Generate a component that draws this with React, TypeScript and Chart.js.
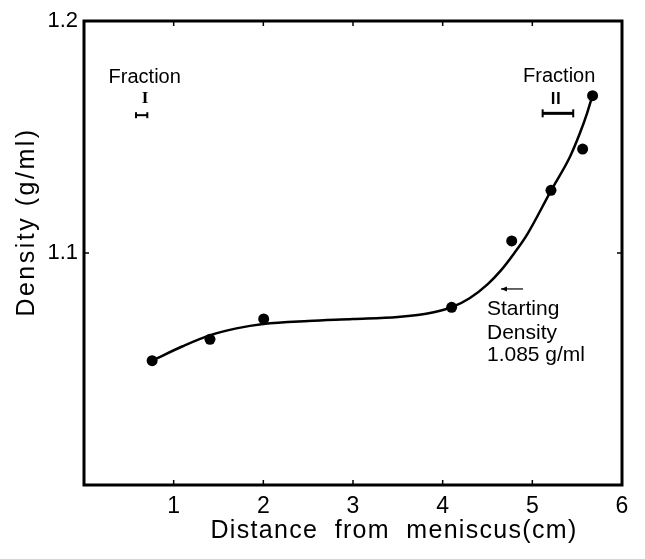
import React, { useEffect, useRef } from "react";
import { Chart, registerables } from "chart.js";

Chart.register(...registerables);

// Measured points (distance cm, density g/ml)
const pointX = [0.76, 1.405, 2.004, 4.1, 4.77, 5.208, 5.561, 5.672];
const pointY = [1.0536, 1.0628, 1.0716, 1.0766, 1.1052, 1.127, 1.1448, 1.1678];

// Hand-drawn smooth curve
const curveX = [0.76, 1.1, 1.4, 1.7, 2.0, 2.5, 3.0, 3.5, 3.9, 4.1, 4.3, 4.5, 4.65, 4.8, 4.95, 5.21, 5.42, 5.53, 5.61, 5.67];
const curveY = [1.0536, 1.0598, 1.0645, 1.0675, 1.0694, 1.0707, 1.0715, 1.0724, 1.0745, 1.0766, 1.0805, 1.0865, 1.0925, 1.1, 1.1085, 1.127, 1.1415, 1.1516, 1.1602, 1.1678];

const xTicks = [1, 2, 3, 4, 5, 6];
const yTicks = [1.1, 1.2];
const xMin = 0;
const xMax = 6;
const yMin = 1.0;
const yMax = 1.2;

const xTitle = "Distance  from  meniscus(cm)";
const yTitle = "Density (g/ml)";

const fractionLabels = ["Fraction", "Fraction"];
const fractionLabelX = [0.677, 5.3];
const fractionLabelY = [1.1757, 1.176];
const fractionNumerals = ["I", "Ⅱ"];
const fractionNumeralX = [0.68, 5.26];
const fractionNumeralY = [1.1664, 1.1667];
const fractionFrom = [0.58, 5.115];
const fractionTo = [0.706, 5.456];
const fractionBarY = [1.1594, 1.1602];

const startingLines = ["Starting", "Density", "1.085 g/ml"];
const startingTextX = 4.494;
const startingTextY = [1.0759, 1.0655, 1.056];
const arrowFromX = 4.896;
const arrowToX = 4.65;
const arrowY = 1.0845;

const FONT = '"Liberation Sans", Arial, Helvetica, sans-serif';

const annotationPlugin = {
  id: "annotations",
  afterDraw(chart: any) {
    const ctx = chart.ctx as CanvasRenderingContext2D;
    const { left, right, top, bottom } = chart.chartArea;
    const xs = chart.scales.x;
    const ys = chart.scales.y;
    const X = (v: number) => xs.getPixelForValue(v);
    const Y = (v: number) => ys.getPixelForValue(v);
    const line = (x1: number, y1: number, x2: number, y2: number) => {
      ctx.beginPath();
      ctx.moveTo(x1, y1);
      ctx.lineTo(x2, y2);
      ctx.stroke();
    };
    ctx.save();
    ctx.strokeStyle = "#000";
    ctx.fillStyle = "#000";
    // frame
    ctx.lineWidth = 3;
    ctx.strokeRect(left, top, right - left, bottom - top);
    // inward ticks
    ctx.lineWidth = 1.5;
    xTicks.forEach((v) => {
      if (v >= xMax) return;
      const px = X(v);
      line(px, bottom, px, bottom - 5);
      line(px, top, px, top + 5);
    });
    yTicks.forEach((v) => {
      if (v >= yMax) return;
      const py = Y(v);
      line(left, py, left + 5, py);
      line(right, py, right - 5, py);
    });

    // fraction labels
    ctx.textAlign = "center";
    ctx.textBaseline = "middle";
    ctx.font = `20px ${FONT}`;
    fractionLabels.forEach((t, i) => {
      ctx.fillText(t, X(fractionLabelX[i]), Y(fractionLabelY[i]));
    });
    fractionNumerals.forEach((t, i) => {
      ctx.font = i === 0 ? `bold 17px "Liberation Serif", serif` : `bold 16px "Noto Sans CJK JP", serif`;
      ctx.fillText(t, X(fractionNumeralX[i]), Y(fractionNumeralY[i]));
    });
    fractionFrom.forEach((f, i) => {
      const x1 = X(f);
      const x2 = X(fractionTo[i]);
      const y = Y(fractionBarY[i]);
      const h = i === 0 ? 3 : 4;
      ctx.lineWidth = i === 0 ? 2 : 3;
      line(x1, y, x2, y);
      ctx.lineWidth = 2;
      line(x1, y - h, x1, y + h);
      line(x2, y - h, x2, y + h);
    });

    // starting density note
    ctx.textAlign = "left";
    ctx.font = `21px ${FONT}`;
    startingLines.forEach((t, i) => {
      ctx.fillText(t, X(startingTextX), Y(startingTextY[i]));
    });
    const ax1 = X(arrowFromX);
    const ax2 = X(arrowToX);
    const ay = Y(arrowY);
    ctx.lineWidth = 1.2;
    line(ax1, ay, ax2, ay);
    ctx.beginPath();
    ctx.moveTo(ax2, ay);
    ctx.lineTo(ax2 + 6, ay - 2.5);
    ctx.lineTo(ax2 + 6, ay + 2.5);
    ctx.closePath();
    ctx.fill();

    // axis titles
    ctx.font = `25px ${FONT}`;
    (ctx as any).letterSpacing = "1.3px";
    ctx.textAlign = "center";
    ctx.fillText(xTitle, 394, 531);
    (ctx as any).letterSpacing = "2.5px";
    ctx.translate(27, 222);
    ctx.rotate(-Math.PI / 2);
    ctx.fillText(yTitle, 0, 0);
    ctx.restore();
  },
};

export default function App() {
  const canvasRef = useRef<HTMLCanvasElement | null>(null);

  useEffect(() => {
    document.body.style.margin = "0";
    const canvas = canvasRef.current;
    if (!canvas) return;
    const chart = new Chart(canvas, {
      type: "scatter",
      data: {
        datasets: [
          {
            data: curveX.map((x, i) => ({ x, y: curveY[i] })),
            showLine: true,
            borderColor: "#000",
            borderWidth: 2.5,
            pointRadius: 0,
            cubicInterpolationMode: "monotone",
            fill: false,
          },
          {
            data: pointX.map((x, i) => ({ x, y: pointY[i] })),
            showLine: false,
            pointRadius: 5.5,
            pointBackgroundColor: "#000",
            pointBorderColor: "#000",
            pointBorderWidth: 0,
          },
        ],
      },
      options: {
        responsive: false,
        animation: false,
        devicePixelRatio: 1,
        layout: { padding: { top: 21, right: 23, left: 0, bottom: 0 } },
        plugins: { legend: { display: false }, tooltip: { enabled: false } },
        scales: {
          x: {
            type: "linear",
            min: xMin,
            max: xMax,
            grid: { display: false, drawTicks: false, tickLength: 0 },
            border: { display: false },
            afterBuildTicks: (s: any) => {
              s.ticks = xTicks.map((v) => ({ value: v }));
            },
            afterFit: (s: any) => {
              s.height = 74;
            },
            ticks: {
              color: "#000",
              padding: 8,
              maxRotation: 0,
              font: { family: FONT, size: 23 },
              callback: (v: any) => String(v),
            },
          },
          y: {
            type: "linear",
            min: yMin,
            max: yMax,
            grid: { display: false, drawTicks: false, tickLength: 0 },
            border: { display: false },
            afterBuildTicks: (s: any) => {
              s.ticks = yTicks.map((v) => ({ value: v }));
            },
            afterFit: (s: any) => {
              s.width = 84;
            },
            ticks: {
              color: "#000",
              padding: 6,
              font: { family: FONT, size: 22 },
              callback: (v: any) => Number(v).toFixed(1),
            },
          },
        },
      },
      plugins: [annotationPlugin],
    } as any);
    return () => chart.destroy();
  }, []);

  return (
    <div style={{ width: 645, height: 559, background: "#fff" }}>
      <canvas ref={canvasRef} width={645} height={559} style={{ display: "block" }} />
    </div>
  );
}
